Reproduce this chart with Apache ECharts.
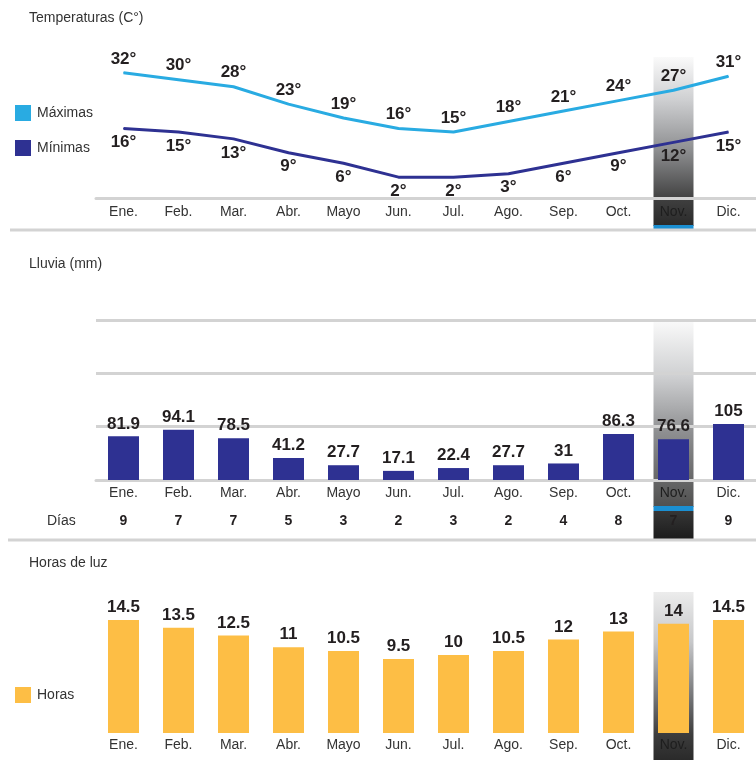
<!DOCTYPE html>
<html>
<head>
<meta charset="utf-8">
<script src="https://cdn.jsdelivr.net/npm/echarts/dist/echarts.min.js"></script>
<style>
  html, body { margin: 0; padding: 0; background: #fff; }
  #chart { width: 756px; height: 760px; }
</style>
</head>
<body>
<div id="chart"></div>
<script>
// datos por mes
const meses = ['Ene.', 'Feb.', 'Mar.', 'Abr.', 'Mayo', 'Jun.', 'Jul.', 'Ago.', 'Sep.', 'Oct.', 'Nov.', 'Dic.']
const maximas = [32, 30, 28, 23, 19, 16, 15, 18, 21, 24, 27, 31]
const minimas = [16, 15, 13, 9, 6, 2, 2, 3, 6, 9, 12, 15]
const lluvia = [81.9, 94.1, 78.5, 41.2, 27.7, 17.1, 22.4, 27.7, 31, 86.3, 76.6, 105]
const dias = [9, 7, 7, 5, 3, 2, 3, 2, 4, 8, 7, 9]
const horas = [14.5, 13.5, 12.5, 11, 10.5, 9.5, 10, 10.5, 12, 13, 14, 14.5]
const mesDestacado = 'Nov.'

const font = 'Liberation Sans'
const gris = '#d3d3d3'
const valLabel = { show: true, fontSize: 17, fontWeight: 'bold', color: '#231f20', fontFamily: font }
// el mes destacado queda oscuro sobre la columna gris
const colorMes = (v) => v === mesDestacado ? '#1e1e1e' : '#333'
const catLabel = { fontSize: 14, color: colorMes, fontFamily: font }
const tituloStyle = { fontSize: 14, fontWeight: 'normal', color: '#333' }

const myChart = echarts.init(document.getElementById('chart'))

myChart.setOption({
  animation: false,
  textStyle: { fontFamily: font },
  title: [
    { text: 'Temperaturas (C°)', left: 29, top: 11, padding: 0, textStyle: tituloStyle },
    { text: 'Lluvia (mm)', left: 29, top: 257, padding: 0, textStyle: tituloStyle },
    { text: 'Horas de luz', left: 29, top: 556, padding: 0, textStyle: tituloStyle },
  ],
  legend: [
    {
      data: ['Máximas', 'Mínimas'],
      orient: 'vertical', left: 15, top: 105, padding: 0,
      icon: 'rect', itemWidth: 16, itemHeight: 16, itemGap: 19,
      selectedMode: false,
      textStyle: { fontSize: 14, color: '#333', padding: [0, 0, 0, 1] }
    },
    {
      data: ['Horas'],
      orient: 'vertical', left: 15, top: 687, padding: 0,
      icon: 'rect', itemWidth: 16, itemHeight: 16,
      selectedMode: false,
      textStyle: { fontSize: 14, color: '#333', padding: [0, 0, 0, 1] }
    }
  ],
  grid: [
    { left: 96, right: 0, top: 45, height: 153 },
    { left: 96, right: 0, top: 320, height: 160 },
    { left: 96, right: 0, top: 577, height: 156 },
  ],
  xAxis: [
    {
      gridIndex: 0, type: 'category', data: meses,
      axisLine: { onZero: false, lineStyle: { color: gris, width: 3 } },
      axisTick: { show: false },
      axisLabel: { ...catLabel, margin: 7 }
    },
    {
      gridIndex: 1, type: 'category', data: meses,
      axisLine: { lineStyle: { color: gris, width: 3 } },
      axisTick: { show: false },
      axisLabel: { ...catLabel, margin: 6 }
    },
    {
      // fila de días de lluvia
      gridIndex: 1, type: 'category', data: dias, position: 'bottom', offset: 28,
      axisLine: { show: false, onZero: false },
      axisTick: { show: false },
      axisLabel: { fontSize: 14, fontWeight: 'bold', color: '#231f20', margin: 6 }
    },
    {
      gridIndex: 2, type: 'category', data: meses,
      axisLine: { show: false, onZero: false },
      axisTick: { show: false },
      axisLabel: { ...catLabel, margin: 5 }
    },
  ],
  yAxis: [
    { gridIndex: 0, type: 'value', min: -4, max: 40, show: false },
    {
      gridIndex: 1, type: 'value', min: 0, max: 300, interval: 100,
      axisLine: { show: false }, axisTick: { show: false }, axisLabel: { show: false },
      splitLine: { lineStyle: { color: gris, width: 3 } }
    },
    { gridIndex: 2, type: 'value', min: 0, max: 20, show: false },
  ],
  series: [
    {
      name: 'Máximas', type: 'line', xAxisIndex: 0, yAxisIndex: 0,
      data: maximas, symbol: 'circle', symbolSize: 1, color: '#29abe2',
      lineStyle: { width: 3, color: '#29abe2' },
      label: { ...valLabel, position: 'top', distance: 5, formatter: '{c}°' }
    },
    {
      name: 'Mínimas', type: 'line', xAxisIndex: 0, yAxisIndex: 0,
      data: minimas, symbol: 'circle', symbolSize: 1, color: '#2e3192',
      lineStyle: { width: 3, color: '#2e3192' },
      label: { ...valLabel, position: 'bottom', distance: 5, formatter: '{c}°' }
    },
    {
      name: 'Lluvia', type: 'bar', xAxisIndex: 1, yAxisIndex: 1,
      data: lluvia, barWidth: 31, color: '#2e3192',
      label: { ...valLabel, position: 'top', distance: 4 }
    },
    {
      name: 'Horas', type: 'bar', xAxisIndex: 3, yAxisIndex: 2,
      data: horas, barWidth: 31, color: '#fdbe45',
      label: { ...valLabel, position: 'top', distance: 4 }
    },
  ]
})

// columna destacada de noviembre, ubicada con la escala del eje
const cx = myChart.convertToPixel({ xAxisIndex: 0 }, mesDestacado)
const colW = 40
const degradado = (stops) => new echarts.graphic.LinearGradient(0, 0, 0, 1,
  stops.map(s => ({ offset: s[0], color: s[1] })))

myChart.setOption({
  graphic: [
    { type: 'rect', z: -1, shape: { x: cx - colW / 2, y: 57, width: colW, height: 169 },
      style: { fill: degradado([[0, '#fafafa'], [0.25, '#cfd0d2'], [0.55, '#8e8f91'], [0.85, '#3e3e3e'], [1, '#2a2a2a']]) } },
    { type: 'rect', z: -1, shape: { x: cx - colW / 2, y: 225, width: colW, height: 5 },
      style: { fill: '#1b8fd2' } },
    { type: 'rect', z: -1, shape: { x: cx - colW / 2, y: 320, width: colW, height: 187 },
      style: { fill: degradado([[0, '#fafafa'], [0.3, '#cfd0d2'], [0.6, '#8e8f91'], [1, '#505050']]) } },
    { type: 'rect', z: -1, shape: { x: cx - colW / 2, y: 506, width: colW, height: 5 },
      style: { fill: '#1b8fd2' } },
    { type: 'rect', z: -1, shape: { x: cx - colW / 2, y: 511, width: colW, height: 28 },
      style: { fill: degradado([[0, '#363636'], [1, '#1c1c1c']]) } },
    { type: 'rect', z: -1, shape: { x: cx - colW / 2, y: 592, width: colW, height: 168 },
      style: { fill: degradado([[0, '#ececec'], [0.3, '#c6c7c9'], [0.65, '#6e6f71'], [0.85, '#3c3c3c'], [1, '#2a2a2a']]) } },
    // separadores
    { type: 'line', z: -1, shape: { x1: 10, y1: 230, x2: 756, y2: 230 }, style: { stroke: gris, lineWidth: 3 } },
    { type: 'line', z: -1, shape: { x1: 8, y1: 540, x2: 756, y2: 540 }, style: { stroke: gris, lineWidth: 3 } },
    { type: 'text', z: 1, x: 47, y: 521,
      style: { text: 'Días', fontSize: 14, fill: '#333', fontFamily: font, verticalAlign: 'middle' } },
  ]
})
</script>
</body>
</html>
